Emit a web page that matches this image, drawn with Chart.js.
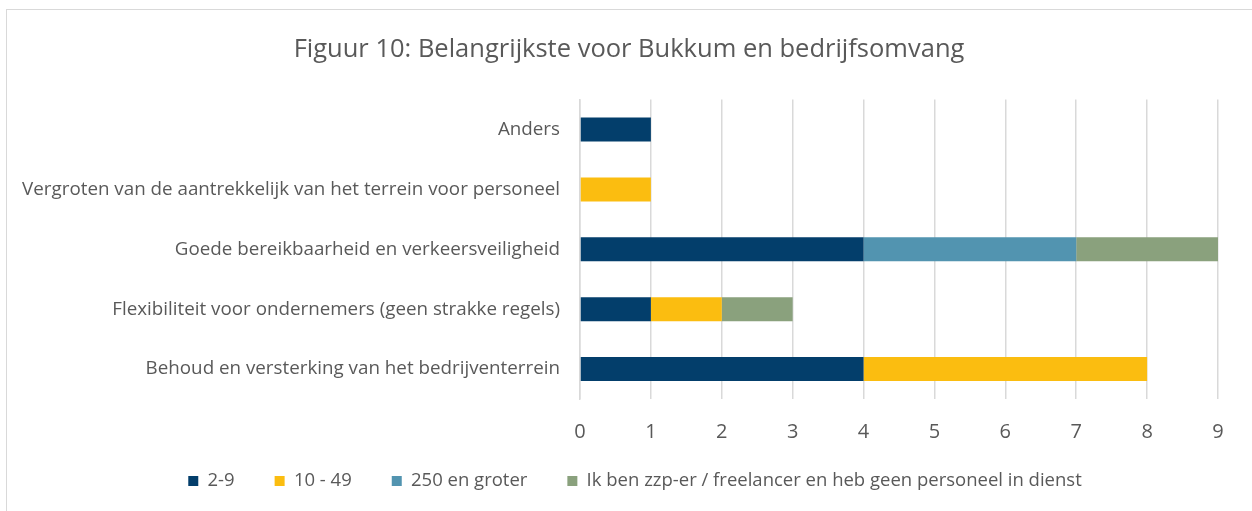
<!DOCTYPE html>
<html>
<head>
<meta charset="utf-8">
<script src="https://cdn.jsdelivr.net/npm/chart.js@4/dist/chart.umd.min.js"></script>
<style>
  html, body { margin: 0; padding: 0; background: #fff; }
  #wrap { position: relative; width: 1252px; height: 511px; overflow: hidden; }
  #frame { position: absolute; left: 6px; top: 9px; width: 1260px; height: 520px; border-left: 1px solid #d9d9d9; border-top: 1px solid #d9d9d9; box-sizing: border-box; pointer-events: none; }
  canvas { position: absolute; left: 0; top: 0; }
</style>
</head>
<body>
<div id="wrap">
  <canvas id="c" width="1252" height="511"></canvas>
  <div id="frame"></div>
</div>
<script>
const categories = [
  "Anders",
  "Vergroten van de aantrekkelijk van het terrein voor personeel",
  "Goede bereikbaarheid en verkeersveiligheid",
  "Flexibiliteit voor ondernemers (geen strakke regels)",
  "Behoud en versterking van het bedrijventerrein"
];
const seriesNames = ["2-9", "10 - 49", "250 en groter", "Ik ben zzp-er / freelancer en heb geen personeel in dienst"];
const values2to9 = [1, 0, 4, 1, 4];
const values10to49 = [0, 1, 0, 1, 4];
const values250plus = [0, 0, 3, 0, 0];
const valuesZzp = [0, 0, 2, 1, 0];
const xTicks = [0, 1, 2, 3, 4, 5, 6, 7, 8, 9];
const titleText = "Figuur 10: Belangrijkste voor Bukkum en bedrijfsomvang";
const colors = ["#033E6B", "#FBBD10", "#5294B0", "#8AA17D"];

const FONT = "'Open Sans', sans-serif";
const TXT = "#595959";
const seriesValues = [values2to9, values10to49, values250plus, valuesZzp];

const nudge = {
  id: "nudge",
  afterLayout(chart) {
    const t = chart.titleBlock;
    if (t) { t.left += 20; t.right += 20; }
    const l = chart.legend;
    if (l) { l.left += 26; l.right += 26; l.top -= 10.75; l.bottom -= 10.75; }
  }
};

new Chart(document.getElementById("c"), {
  type: "bar",
  data: {
    labels: categories,
    datasets: seriesNames.map((n, i) => ({
      label: n,
      data: seriesValues[i],
      backgroundColor: colors[i],
      borderWidth: 0,
      barPercentage: 0.4,
      categoryPercentage: 1.0
    }))
  },
  plugins: [nudge],
  options: {
    indexAxis: "y",
    responsive: false,
    animation: false,
    devicePixelRatio: 1,
    layout: { padding: { left: 0, right: 34, top: 10, bottom: 0 } },
    plugins: {
      tooltip: { enabled: false },
      title: {
        display: true,
        text: titleText,
        color: TXT,
        font: { family: FONT, size: 25.5, weight: "normal" },
        padding: { top: 24, bottom: 35 }
      },
      legend: {
        position: "bottom",
        labels: {
          color: TXT,
          font: { family: FONT, size: 18.5 },
          boxWidth: 10,
          boxHeight: 10,
          padding: 40
        }
      }
    },
    scales: {
      x: {
        stacked: true,
        min: 0,
        max: 9,
        afterBuildTicks: (s) => { s.ticks = xTicks.map(v => ({ value: v })); },
        afterFit: (s) => { s.height = 43.5; },
        grid: { color: "#d9d9d9", lineWidth: 1.5, drawTicks: false },
        border: { display: false },
        ticks: { color: TXT, font: { family: FONT, size: 20 }, padding: 21 }
      },
      y: {
        stacked: true,
        afterFit: (s) => { s.width = 580; },
        grid: { display: false, drawTicks: false },
        border: { display: true, color: "#d9d9d9", width: 1.5 },
        ticks: { color: TXT, font: { family: FONT, size: 18.8 }, padding: 20 }
      }
    }
  }
});
</script>
</body>
</html>
